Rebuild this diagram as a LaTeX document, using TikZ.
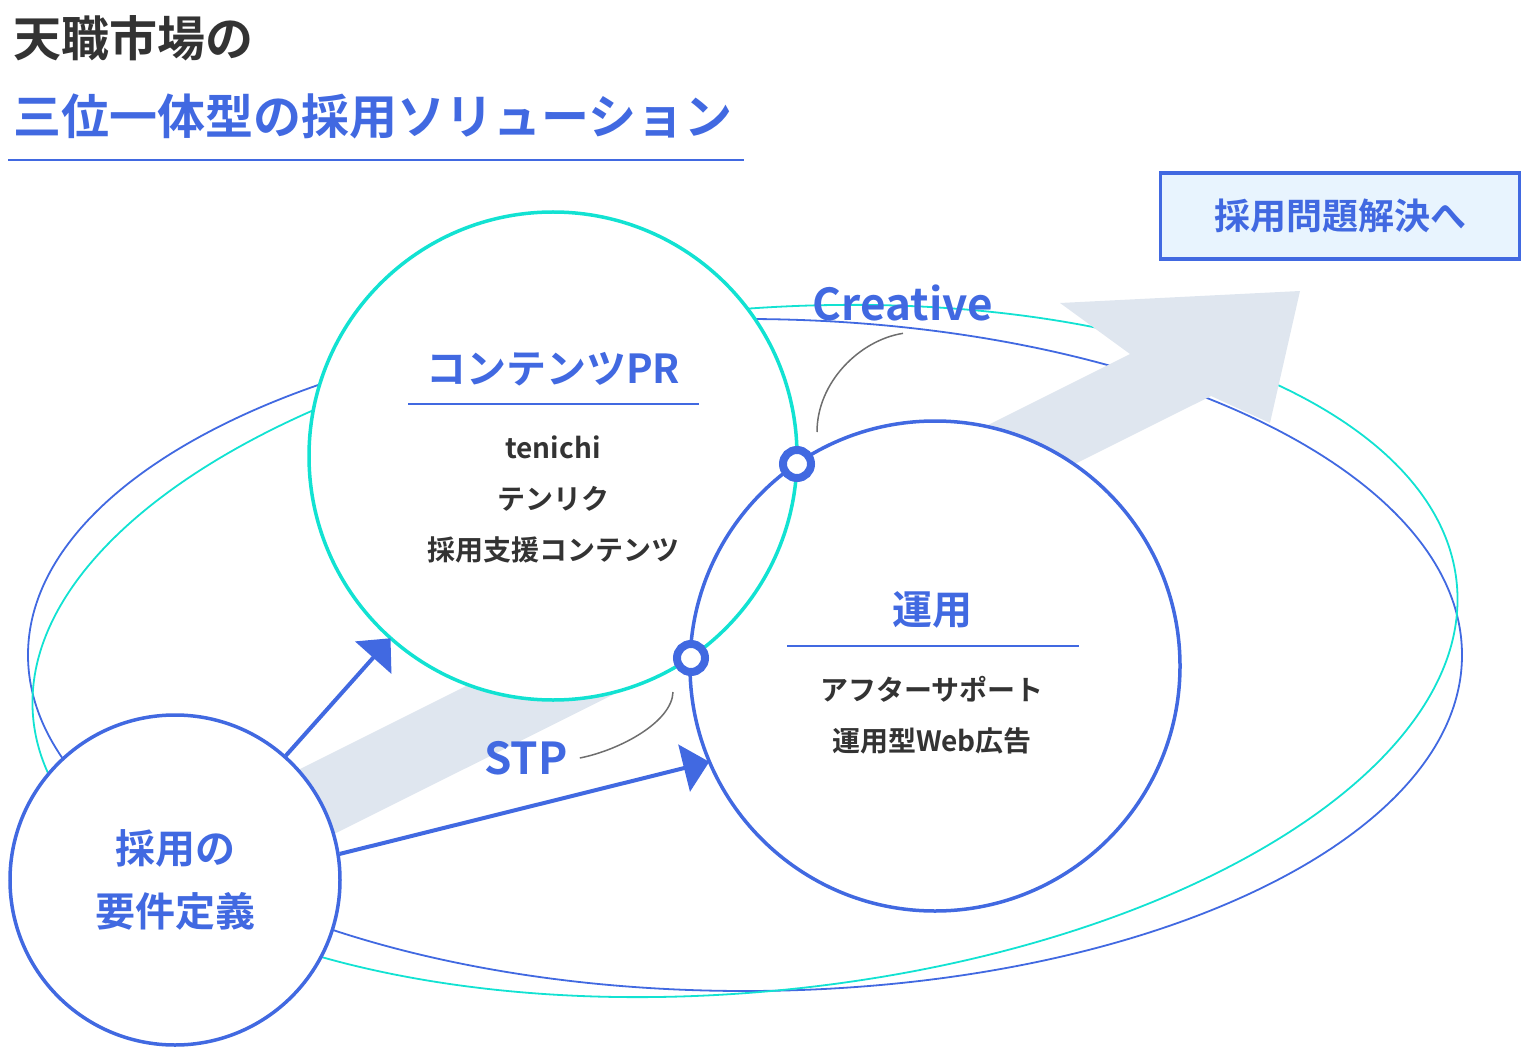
\documentclass[tikz,border=0pt]{standalone}
\usepackage{fontspec}
\setmainfont{Noto Sans CJK JP}[BoldFont={Noto Sans CJK JP Bold}]
\usetikzlibrary{arrows.meta,positioning}

\definecolor{mainblue}{HTML}{4169E1}
\definecolor{aqua}{HTML}{12E2D2}
\definecolor{bandgray}{HTML}{DFE6EF}
\definecolor{boxfill}{HTML}{E8F4FE}
\definecolor{ink}{HTML}{333333}
\definecolor{leadgray}{HTML}{6E6E6E}
\newcommand{\fsz}[2]{\fontsize{#1}{#2}\selectfont}

\begin{document}
\begin{tikzpicture}[x=1pt,y=-1pt,
	ring/.style={circle,inner sep=0pt,fill=white},
	dot/.style={circle,inner sep=0pt,minimum size=28,draw=mainblue,line width=8pt,fill=white},
	flow/.style={mainblue,line width=4pt,-{Triangle[length=26pt,width=48pt]}},
	leader/.style={leadgray,line width=1.5pt},
	rule/.style={mainblue,line width=2pt},
	heading/.style={text=mainblue,font=\bfseries\fsz{40}{48}},
	listing/.style={text=ink,align=center,font=\bfseries\fsz{28}{51}},
	tag/.style={text=mainblue,inner sep=12pt,font=\bfseries\fsz{44}{50}}]
	\useasboundingbox (0,0) rectangle (1536,1056);
	% title
	\node[anchor=west,inner sep=0pt,text=ink,font=\bfseries\fsz{48}{56}] (head1) at (13,38) {天職市場の};
	\node[anchor=west,inner sep=0pt,text=mainblue,font=\bfseries\fsz{48}{56}] (head2) at (13,116) {三位一体型の採用ソリューション};
	\draw[rule] (8,160) -- (744,160);
	\node[draw=mainblue,line width=3.5pt,fill=boxfill,minimum width=359,minimum height=86,text=mainblue,font=\bfseries\fsz{36}{40}] (goal) at (1340,216) {採用問題解決へ};
	% outer orbits
	\draw[mainblue,line width=1.8pt] (745,655) ellipse [x radius=717,y radius=336];
	\draw[aqua,line width=1.8pt,rotate around={5.4:(745,651)}] (745,651) ellipse [x radius=715,y radius=341];
	% big arrow
	\fill[bandgray] (200,819) -- (1130,354) -- (1060,303) -- (1300,291) -- (1270,423) -- (1211,396) -- (240,881) -- cycle;
	% circles
	\node[ring,minimum size=488] (pr) at (553,456) {};
	\node[ring,minimum size=490] (unyo) at (935,666) {};
	\draw[aqua,line width=3.5pt] (pr.center) circle [radius=244];
	\draw[mainblue,line width=3.5pt] (unyo.center) circle [radius=245];
	\node[ring,draw=mainblue,line width=3.5pt,minimum size=330,align=center,text=mainblue,font=\bfseries\fsz{40}{63}] (yoken) at (175,880) {採用の\\要件定義};
	\node[dot] (lensup) at (797,464) {};
	\node[dot] (lenslow) at (691,658) {};
	% arrows
	\draw[flow] (yoken) -- (pr);
	\draw[flow] (yoken.9) -- (unyo.203);
	% texts
	\node[heading] (prtitle) at (553,369) {コンテンツPR};
	\draw[rule] (408,404) -- (699,404);
	\node[listing] (prlist) at (553,499) {tenichi\\テンリク\\採用支援コンテンツ};
	\node[heading] (unyotitle) at (932,610) {運用};
	\draw[rule] (787,646) -- (1079,646);
	\node[listing] (unyolist) at (932,715) {アフターサポート\\運用型Web広告};
	% labels
	\node[tag] (creative) at (903,303) {Creative};
	\node[tag] (stp) at (526,758) {STP};
	\coordinate (crepoint) at (817,432);
	\coordinate (stppoint) at (673,692);
	\draw[leader] (creative.south) .. controls (860,340) and (817,382) .. (crepoint);
	\draw[leader] (stp.east) .. controls (620,750) and (672,722) .. (stppoint);
\end{tikzpicture}
\end{document}
